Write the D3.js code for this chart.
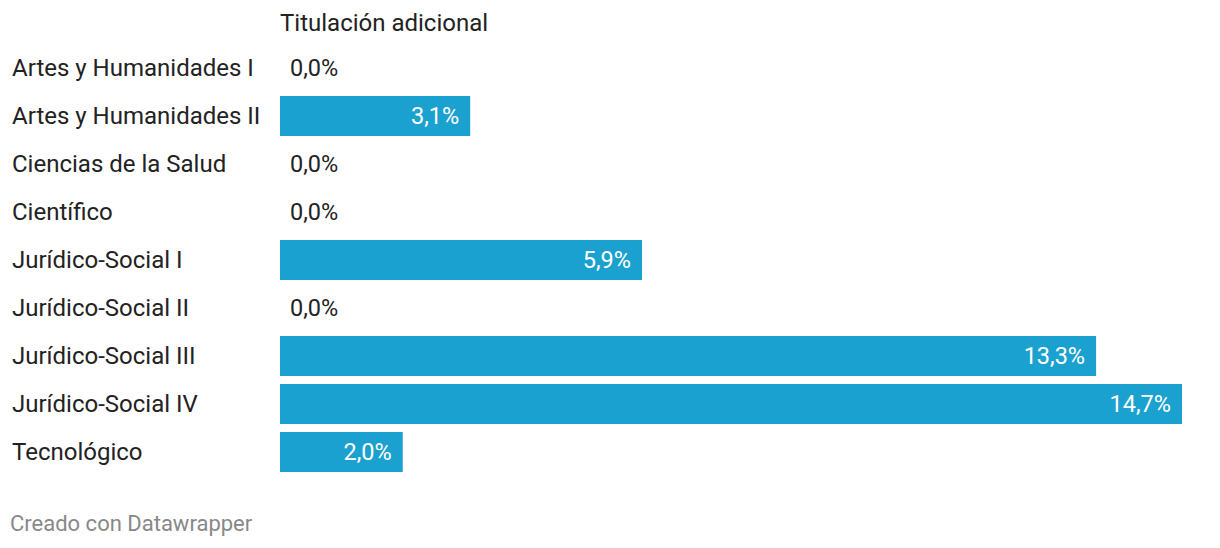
<!DOCTYPE html>
<html><head><meta charset="utf-8">
<script src="https://cdn.jsdelivr.net/npm/d3@7"></script>
<style>body{margin:0;background:#fff;font-family:Roboto,sans-serif;}</style>
</head><body>
<svg id="c" width="1220" height="548"></svg>
<script>
const categories = ["Artes y Humanidades I","Artes y Humanidades II","Ciencias de la Salud","Científico","Jurídico-Social I","Jurídico-Social II","Jurídico-Social III","Jurídico-Social IV","Tecnológico"];
const values = [0.0, 3.1, 0.0, 0.0, 5.9, 0.0, 13.3, 14.7, 2.0];
const seriesName = "Titulación adicional";
const footer = "Creado con Datawrapper";

const svg = d3.select("#c");
const x = d3.scaleLinear().domain([0, 14.7]).range([280, 1182]);
const y = d3.scaleBand().domain(categories).range([44, 476]).paddingInner(8/48).paddingOuter(4/48);
const fmt = v => d3.format(".1f")(v).replace(".", ",") + "%";

svg.append("text").attr("x", 280).attr("y", 31).attr("font-size", 24).attr("fill", "#222").text(seriesName);

const g = svg.selectAll("g.row").data(categories.map((c,i)=>({c, v: values[i]}))).join("g");
g.append("text").attr("x", 12).attr("y", d => y(d.c) + y.bandwidth()/2).attr("dy", "0.35em")
  .attr("font-size", 24).attr("fill", "#222").text(d => d.c);
g.filter(d => d.v > 0).append("rect").attr("x", x(0)).attr("y", d => y(d.c))
  .attr("width", d => x(d.v) - x(0)).attr("height", y.bandwidth()).attr("fill", "#1ba1cf");
g.append("text")
  .attr("x", d => d.v > 0 ? x(d.v) - 11 : x(0) + 10)
  .attr("y", d => y(d.c) + y.bandwidth()/2).attr("dy", "0.35em")
  .attr("text-anchor", d => d.v > 0 ? "end" : "start")
  .attr("font-size", 23.5).attr("fill", d => d.v > 0 ? "#fff" : "#222").text(d => fmt(d.v));

svg.append("text").attr("x", 10).attr("y", 531).attr("font-size", 22).attr("fill", "#888").text(footer);
</script>
</body></html>
